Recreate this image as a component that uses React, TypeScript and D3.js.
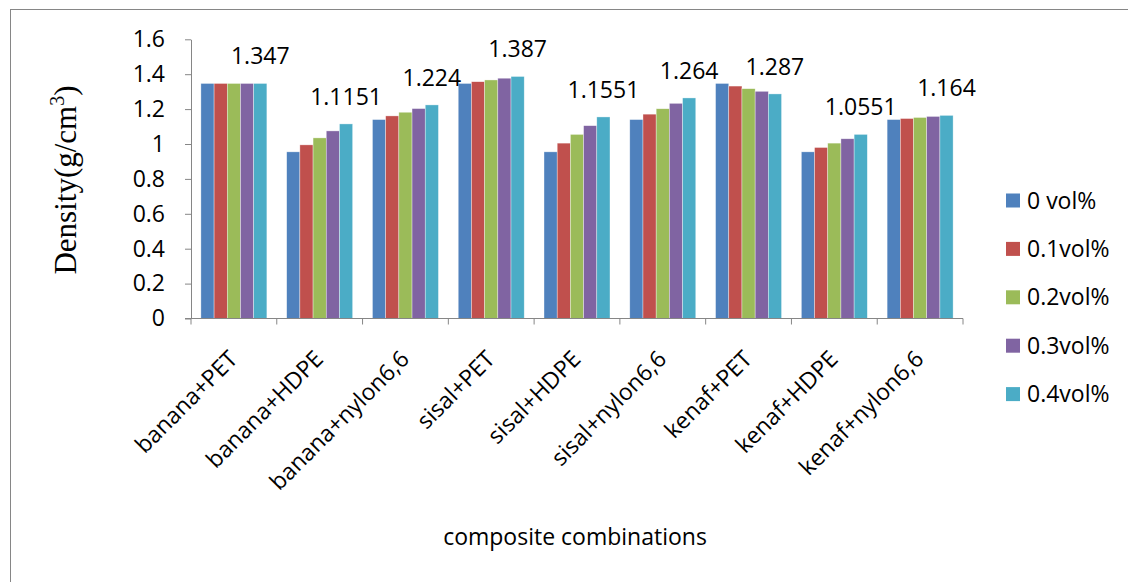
import { useEffect, useRef } from 'react'
import * as d3 from 'd3'

const categories = [
  'banana+PET', 'banana+HDPE', 'banana+nylon6,6',
  'sisal+PET', 'sisal+HDPE', 'sisal+nylon6,6',
  'kenaf+PET', 'kenaf+HDPE', 'kenaf+nylon6,6',
]
const seriesNames = ['0 vol%', '0.1vol%', '0.2vol%', '0.3vol%', '0.4vol%']
const colors = ['#4F81BD', '#C0504D', '#9BBB59', '#8064A2', '#4BACC6']

const vol0 = [1.347, 0.955, 1.14, 1.347, 0.955, 1.14, 1.347, 0.955, 1.14]
const vol01 = [1.347, 0.995, 1.161, 1.357, 1.005, 1.171, 1.332, 0.98, 1.146]
const vol02 = [1.347, 1.035, 1.182, 1.367, 1.055, 1.202, 1.317, 1.005, 1.152]
const vol03 = [1.347, 1.075, 1.203, 1.377, 1.105, 1.233, 1.302, 1.03, 1.158]
const vol04 = [1.347, 1.1151, 1.224, 1.387, 1.1551, 1.264, 1.287, 1.0551, 1.164]
const seriesValues = [vol0, vol01, vol02, vol03, vol04]

const yTicks = [0, 0.2, 0.4, 0.6, 0.8, 1, 1.2, 1.4, 1.6]

const W = 1128
const H = 582
const FONT = '"Open Sans", sans-serif'
const FS = '23px'

export default function App() {
  const svgRef = useRef<SVGSVGElement>(null)

  useEffect(() => {
    if (!svgRef.current) return
    const svg = d3.select(svgRef.current)
    svg.selectAll('*').remove()

    const axisColor = '#868686'

    // outer chart border
    svg.append('rect')
      .attr('x', 10.5).attr('y', 9.5)
      .attr('width', W).attr('height', H)
      .attr('fill', '#fff')
      .attr('stroke', axisColor)
      .attr('stroke-width', 1)

    const x0 = d3.scaleBand<string>().domain(categories).range([191, 963])
    const x1 = d3.scaleBand<string>().domain(seriesNames)
      .range([0, x0.bandwidth()]).paddingOuter(0.75)
    const y = d3.scaleLinear().domain([0, 1.6]).range([318.5, 39.3])

    // bars
    const g = svg.append('g')
    seriesNames.forEach((s, si) => {
      g.selectAll(`rect.s${si}`)
        .data(categories)
        .enter().append('rect')
        .attr('x', c => x0(c)! + x1(s)!)
        .attr('y', (c, i) => y(seriesValues[si][i]))
        .attr('width', x1.bandwidth())
        .attr('height', (c, i) => y(0) - y(seriesValues[si][i]))
        .attr('fill', colors[si])
        .attr('stroke', 'rgba(255,255,255,0.6)')
        .attr('stroke-width', 0.6)
    })

    // data labels on last series
    const last = seriesNames.length - 1
    g.selectAll('text.lbl')
      .data(categories)
      .enter().append('text')
      .attr('x', c => x0(c)! + x1(seriesNames[last])! + x1.bandwidth() / 2)
      .attr('y', (c, i) => y(seriesValues[last][i]) - 19)
      .attr('text-anchor', 'middle')
      .style('font-family', FONT)
      .style('font-size', FS)
      .style('fill', '#000')
      .text((c, i) => String(seriesValues[last][i]))

    // y axis
    const yAxis = svg.append('g')
      .attr('transform', 'translate(191,0)')
      .call(d3.axisLeft(y).tickValues(yTicks).tickSize(6).tickSizeOuter(0)
        .tickFormat(d => String(d)))
    yAxis.select('.domain').attr('stroke', axisColor)
    yAxis.selectAll('.tick line').attr('stroke', axisColor)
    yAxis.selectAll('.tick text')
      .attr('x', -26)
      .style('font-family', FONT)
      .style('font-size', FS)
      .style('fill', '#000')

    // x axis
    const xa = svg.append('g')
    xa.append('line')
      .attr('x1', 185).attr('x2', 963)
      .attr('y1', y(0)).attr('y2', y(0))
      .attr('stroke', axisColor)
    const bounds = categories.map(c => x0(c)!).concat([x0.range()[1]])
    xa.selectAll('line.tk')
      .data(bounds)
      .enter().append('line')
      .attr('x1', d => d).attr('x2', d => d)
      .attr('y1', y(0)).attr('y2', y(0) + 6)
      .attr('stroke', axisColor)
    xa.selectAll('text.cat')
      .data(categories)
      .enter().append('text')
      .attr('transform', c => `translate(${x0(c)! + x0.bandwidth() / 2 + 5},${y(0) + 42}) rotate(-45)`)
      .attr('text-anchor', 'end')
      .style('font-family', FONT)
      .style('font-size', FS)
      .style('fill', '#000')
      .text(c => c)

    // axis titles
    svg.append('text')
      .attr('x', 575).attr('y', 545)
      .attr('text-anchor', 'middle')
      .style('font-family', FONT)
      .style('font-size', FS)
      .style('fill', '#000')
      .text('composite combinations')

    const yt = svg.append('text')
      .attr('transform', 'translate(76,180) rotate(-90)')
      .attr('text-anchor', 'middle')
      .style('font-family', '"Liberation Serif", "Times New Roman", serif')
      .style('font-size', '31px')
      .style('fill', '#000')
    yt.append('tspan').text('Density(g/cm')
    yt.append('tspan').attr('dy', -12).style('font-size', '20px').text('3')
    yt.append('tspan').attr('dy', 12).text(')')

    // legend
    const lg = svg.append('g')
    seriesNames.forEach((s, i) => {
      const cy = 200.5 + i * 48.4
      lg.append('rect')
        .attr('x', 1006).attr('y', cy - 7)
        .attr('width', 14).attr('height', 14)
        .attr('fill', colors[i])
      lg.append('text')
        .attr('x', 1027).attr('y', cy)
        .attr('dy', '0.35em')
        .style('font-family', FONT)
        .style('font-size', FS)
        .style('fill', '#000')
        .text(s)
    })
  }, [])

  return (
    <svg
      ref={svgRef}
      width={W}
      height={H}
      style={{ position: 'absolute', left: 0, top: 0, display: 'block' }}
    />
  )
}
